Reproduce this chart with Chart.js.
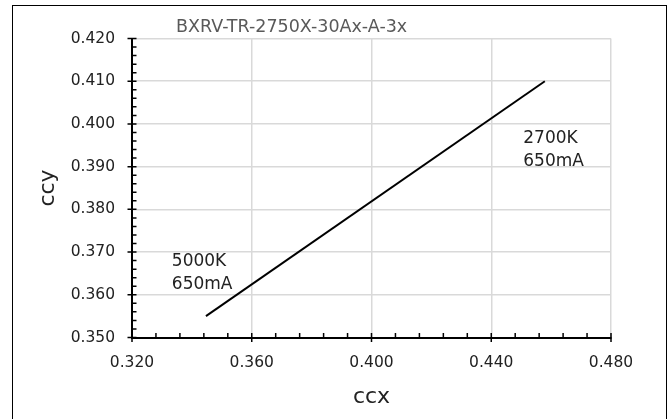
<!DOCTYPE html>
<html>
<head>
<meta charset="utf-8">
<script src="https://cdn.jsdelivr.net/npm/chart.js@4"></script>
<style>
  body { margin: 0; background: #fff; }
  #wrap { position: relative; width: 670px; height: 419px; overflow: hidden; }
  #frame { position: absolute; left: 12px; top: 5px; width: 653px; height: 430px; border: 1.5px solid #000; }
  canvas { position: absolute; left: 0; top: 0; }
</style>
</head>
<body>
<div id="wrap">
  <div id="frame"></div>
  <canvas id="chart" width="670" height="419"></canvas>
</div>
<script>
// values
const ccx = [0.3447, 0.4579];
const ccy = [0.3550, 0.4100];
const chartTitle = 'BXRV-TR-2750X-30Ax-A-3x';
const labels = [
  { x: 0.3333, y: 0.3677, lines: ['5000K', '650mA'] },
  { x: 0.4507, y: 0.3965, lines: ['2700K', '650mA'] }
];

const FONT = '"DejaVu Sans", sans-serif';

// minor/major tick marks crossing the axes, Excel style
const tickMarks = {
  id: 'tickMarks',
  afterDatasetsDraw(chart) {
    const ctx = chart.ctx;
    const xs = chart.scales.x, ys = chart.scales.y;
    const bottom = chart.chartArea.bottom, left = chart.chartArea.left;
    ctx.save();
    ctx.strokeStyle = '#000';
    ctx.lineWidth = 1.5;
    ctx.beginPath();
    for (let i = 0; i <= 20; i++) {
      const px = xs.getPixelForValue(0.32 + i * 0.008);
      const major = i % 5 === 0;
      ctx.moveTo(px, bottom + (major ? 4.5 : 0));
      ctx.lineTo(px, bottom - 4.5);
    }
    for (let i = 0; i <= 35; i++) {
      const py = ys.getPixelForValue(0.35 + i * 0.002);
      const major = i % 5 === 0;
      ctx.moveTo(left - (major ? 4.5 : 0), py);
      ctx.lineTo(left + 4.5, py);
    }
    ctx.stroke();
    ctx.restore();
  }
};

const textLabels = {
  id: 'textLabels',
  afterDraw(chart) {
    const ctx = chart.ctx;
    const xs = chart.scales.x, ys = chart.scales.y;
    ctx.save();
    ctx.textBaseline = 'middle';
    ctx.textAlign = 'left';
    ctx.fillStyle = '#595959';
    ctx.font = '17.5px ' + FONT;
    ctx.fillText(chartTitle, 176, 27);
    ctx.fillStyle = '#222';
    ctx.font = '17px ' + FONT;
    labels.forEach(l => {
      const px = xs.getPixelForValue(l.x);
      const py = ys.getPixelForValue(l.y);
      l.lines.forEach((t, i) => ctx.fillText(t, px, py + i * 23));
    });
    ctx.restore();
  }
};

new Chart(document.getElementById('chart'), {
  type: 'scatter',
  data: {
    datasets: [{
      data: ccx.map((x, i) => ({ x: x, y: ccy[i] })),
      showLine: true,
      borderColor: '#000',
      borderWidth: 2,
      pointRadius: 0
    }]
  },
  options: {
    responsive: false,
    animation: false,
    layout: { padding: { top: 38.5, right: 59, left: 0, bottom: 0 } },
    plugins: { legend: { display: false }, tooltip: { enabled: false } },
    scales: {
      x: {
        type: 'linear',
        min: 0.32,
        max: 0.48,
        afterFit(s) { s.height = 81.5; },
        ticks: {
          stepSize: 0.04,
          padding: 16,
          color: '#222',
          font: { family: FONT, size: 15.5 },
          callback: v => v.toFixed(3)
        },
        grid: { color: '#d9d9d9', lineWidth: 1.5, drawTicks: false },
        border: { color: '#000', width: 2 },
        title: {
          display: true,
          text: 'ccx',
          color: '#222',
          font: { family: FONT, size: 22 },
          padding: { top: 0, bottom: 9 }
        }
      },
      y: {
        type: 'linear',
        min: 0.35,
        max: 0.42,
        afterFit(s) { s.width = 132; },
        ticks: {
          stepSize: 0.01,
          padding: 17,
          color: '#222',
          font: { family: FONT, size: 15.5 },
          callback: v => v.toFixed(3)
        },
        grid: { color: '#d9d9d9', lineWidth: 1.5, drawTicks: false },
        border: { color: '#000', width: 2 },
        title: {
          display: true,
          text: 'ccy',
          color: '#222',
          font: { family: FONT, size: 22 },
          padding: { top: 35, bottom: 0 }
        }
      }
    }
  },
  plugins: [tickMarks, textLabels]
});
</script>
</body>
</html>
